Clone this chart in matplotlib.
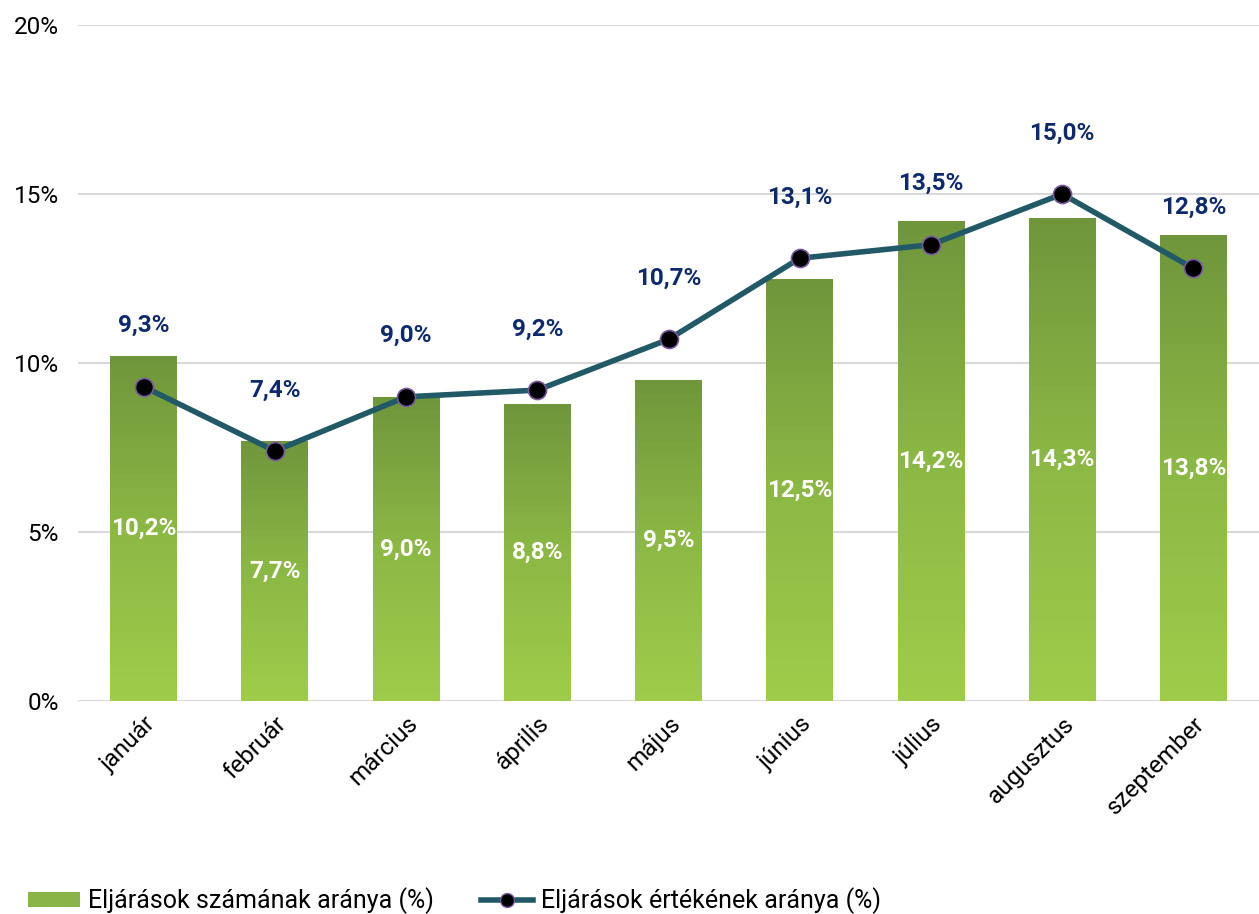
import numpy as np
import matplotlib.pyplot as plt
from matplotlib.patches import Rectangle
from matplotlib.lines import Line2D
from matplotlib.colors import LinearSegmentedColormap

months = ['január', 'február', 'március', 'április', 'május',
          'június', 'július', 'augusztus', 'szeptember']
count_share = [10.2, 7.7, 9.0, 8.8, 9.5, 12.5, 14.2, 14.3, 13.8]
value_share = [9.3, 7.4, 9.0, 9.2, 10.7, 13.1, 13.5, 15.0, 12.8]
yticks = [0, 5, 10, 15, 20]

plt.rcParams['font.family'] = ['Roboto', 'DejaVu Sans']

fig = plt.figure(figsize=(12.59, 9.14), dpi=100)
ax = fig.add_axes([0.062, 0.233, 0.938, 0.7396])

x = np.arange(len(months))
width = 0.51

# gradient fill: dark olive on top, light green at bottom
cmap = LinearSegmentedColormap.from_list('g', ['#9fcd4a', '#8cb845', '#6f963c'])
grad = np.linspace(0, 1, 256).reshape(-1, 1)
bars = ax.bar(x, count_share, width=width, color='none', zorder=2)
for b in bars:
    x0, y0 = b.get_x(), b.get_y()
    im = ax.imshow(grad, cmap=cmap, aspect='auto', origin='lower',
                   extent=[x0, x0 + b.get_width(), y0, y0 + b.get_height()],
                   zorder=2)
    im.set_clip_path(b)
    ax.text(x0 + b.get_width() / 2, b.get_height() / 2,
            f'{b.get_height():.1f}%'.replace('.', ','),
            ha='center', va='center', color='white',
            fontsize=17.5, fontweight='bold', zorder=4)

ax.plot(x, value_share, color='#215a66', lw=4, zorder=3,
        marker='o', markersize=13, markerfacecolor='black',
        markeredgecolor='#7a5a9e', markeredgewidth=1.2)
for xi, v in zip(x, value_share):
    ax.annotate(f'{v:.1f}%'.replace('.', ','), (xi, v),
                xytext=(0, 44), textcoords='offset points',
                ha='center', va='center', color='#0e2a6e',
                fontsize=17.5, fontweight='bold', zorder=4)

ax.set_xlim(-0.5, len(months) - 0.5)
ax.set_ylim(0, 20)
ax.set_yticks(yticks)
ax.set_yticklabels([f'{t}%' for t in yticks], fontsize=17.5)
ax.set_xticks(x)
ax.set_xticklabels(months, rotation=45, ha='right', rotation_mode='anchor',
                   fontsize=17.5)
ax.tick_params(axis='y', length=0, pad=14)
ax.tick_params(axis='x', length=0, pad=8)
ax.grid(axis='y', color='#d9d9d9', lw=1.5, zorder=0)
ax.set_axisbelow(True)
for s in ax.spines.values():
    s.set_visible(False)

handles = [Rectangle((0, 0), 1, 1, facecolor='#8ab446'),
           Line2D([0], [0], color='#215a66', lw=4, marker='o', markersize=10,
                  markerfacecolor='black', markeredgecolor='#7a5a9e')]
fig.legend(handles, ['Eljárások számának aránya (%)',
                     'Eljárások értékének aránya (%)'],
           loc='lower left', bbox_to_anchor=(0.004, -0.025), ncol=2,
           frameon=False, fontsize=18, handlelength=2.1, handleheight=0.5,
           handletextpad=0.3, columnspacing=1.9)

plt.savefig('out.png', dpi=100)
